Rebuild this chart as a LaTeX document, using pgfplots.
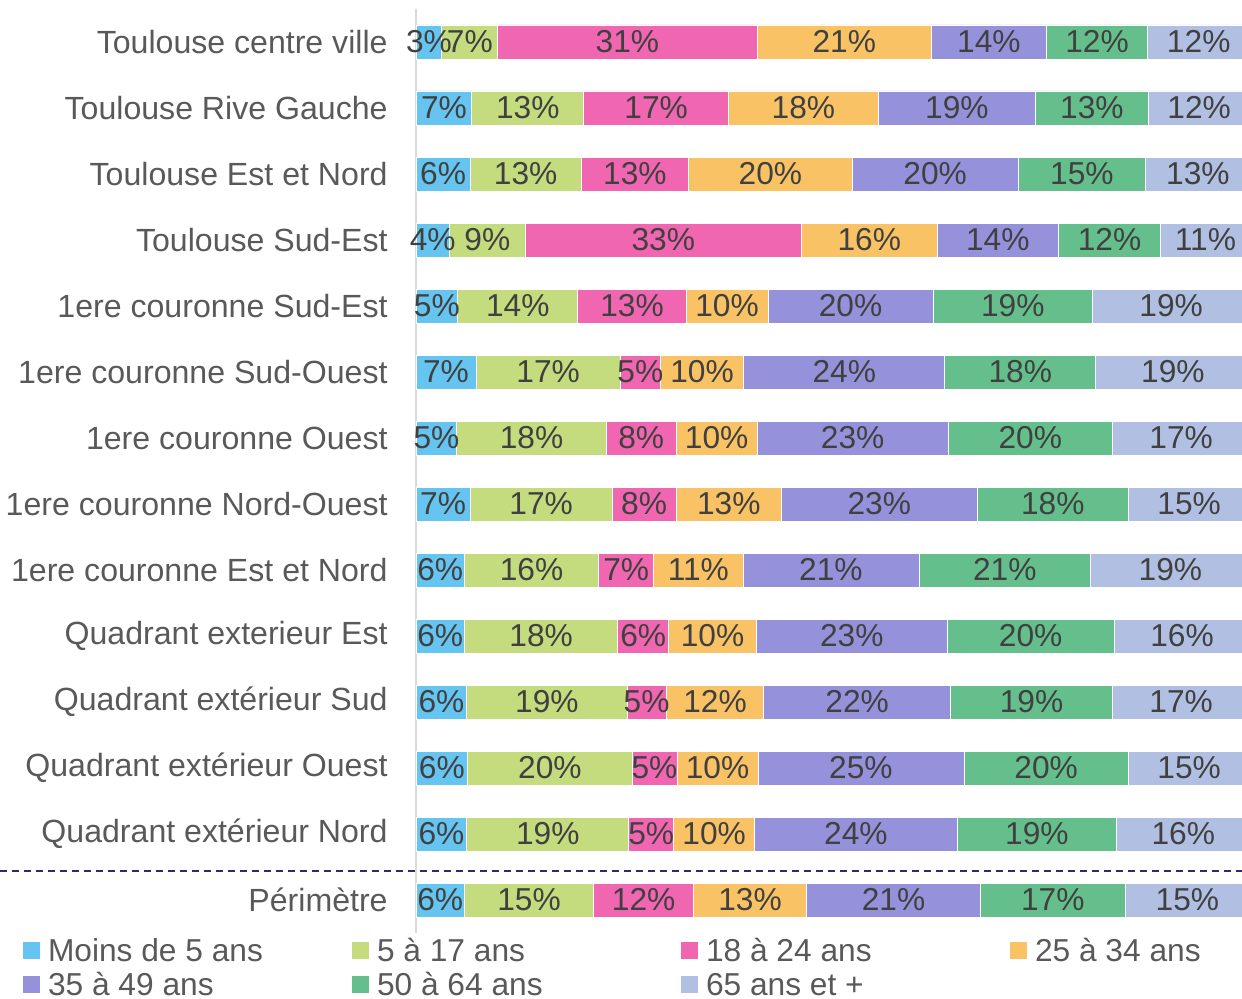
\documentclass[border=0pt]{standalone}
\usepackage{fontspec}
\setmainfont{Liberation Sans}
\usepackage{pgfplots}
\usepackage{pgfplotstable}
\pgfplotsset{compat=1.18}
\definecolor{c1}{HTML}{65C5F0}
\definecolor{c2}{HTML}{C4DB7E}
\definecolor{c3}{HTML}{F066B0}
\definecolor{c4}{HTML}{F9C365}
\definecolor{c5}{HTML}{9592DB}
\definecolor{c6}{HTML}{65BF8C}
\definecolor{c7}{HTML}{B1C0E2}
\definecolor{lab}{HTML}{595959}
\definecolor{val}{HTML}{404040}
\definecolor{dashc}{HTML}{2E2A6E}
\definecolor{axl}{HTML}{D9D9D9}

\pgfplotstableread{
y  a   b    c    d    e    f    g    la lb lc ld le lf lg
13 3.1 6.7  31.1 20.9 13.8 12.1 12.3 3  7  31 21 14 12 12
12 6.7 13.4 17.4 17.9 18.9 13.5 12.2 7  13 17 18 19 13 12
11 6.5 13.3 12.9 19.6 19.9 15.3 12.5 6  13 13 20 20 15 13
10 4.0 9.1  33.1 16.3 14.5 12.3 10.7 4  9  33 16 14 12 11
9  5.0 14.4 13.0 9.8  19.8 19.1 18.9 5  14 13 10 20 19 19
8  7.2 17.3 4.8  10.0 24.1 18.1 18.5 7  17 5  10 24 18 19
7  4.9 17.9 8.4  9.7  22.9 19.7 16.5 5  18 8  10 23 20 17
6  6.5 17.0 7.7  12.6 23.5 18.1 14.6 7  17 8  13 23 18 15
5  5.8 16.1 6.6  10.7 21.1 20.6 19.1 6  16 7  11 21 21 19
4  5.8 18.4 6.1  10.5 22.9 20.0 16.3 6  18 6  10 23 20 16
3  6.1 19.2 4.7  11.7 22.4 19.4 16.5 6  19 5  12 22 19 17
2  6.2 19.7 5.4  9.7  24.7 19.7 14.6 6  20 5  10 25 20 15
1  6.1 19.4 5.4  9.7  24.3 19.1 16.0 6  19 5  10 24 19 16
0  5.8 15.5 12.0 13.5 20.9 17.3 15.0 6  15 12 13 21 17 15
}\data

\newcommand{\fs}{\fontsize{15.85}{19}\selectfont}
\newcommand{\fst}{\fontsize{16.05}{19}\selectfont}
\newcommand{\lent}[1]{\makebox[152pt][l]{\rule[-4pt]{0pt}{17pt}#1}}

\begin{document}
\begin{tikzpicture}
\useasboundingbox (0,0) rectangle (621pt,499pt);
\begin{axis}[
  at={(208pt,32.5pt)}, anchor=south west,
  scale only axis, width=417pt, height=462pt,
  xmin=0, xmax=100, ymin=-0.5, ymax=13.5,
  xbar stacked, bar width=17pt,
  axis x line=none,
  axis y line*=left,
  y axis line style={draw=axl, line width=0.75pt, -},
  ytick={0,...,13},
  yticklabels={Périmètre, Quadrant extérieur Nord, Quadrant extérieur Ouest, Quadrant extérieur Sud, Quadrant exterieur Est, 1ere couronne Est et Nord, 1ere couronne Nord-Ouest, 1ere couronne Ouest, 1ere couronne Sud-Ouest, 1ere couronne Sud-Est, Toulouse Sud-Est, Toulouse Est et Nord, Toulouse Rive Gauche, Toulouse centre ville},
  major tick length=0pt,
  yticklabel style={font=\fst, text=lab, inner sep=0pt, xshift=-14pt},
  clip=false,
  legend columns=4,
  legend image code/.code={\path[#1, draw=none] (0pt,-4.25pt) rectangle (8.5pt,4.25pt);},
  legend style={at={(rel axis cs:-0.4712,-0.003)}, anchor=north west, draw=none, fill=none,
    font=\fs, text=lab, inner sep=0pt, outer sep=0pt, column sep=0pt, row sep=2.5pt,
    nodes={inner sep=0pt},
    /tikz/every odd column/.append style={column sep=4pt}},
]
\addplot[fill=c1, draw=white, line width=0.4pt] table[x=a, y=y] {\data};
\addlegendentry{\lent{Moins de 5 ans}}
\addplot[fill=c2, draw=white, line width=0.4pt] table[x=b, y=y] {\data};
\addlegendentry{\lent{5 à 17 ans}}
\addplot[fill=c3, draw=white, line width=0.4pt] table[x=c, y=y] {\data};
\addlegendentry{\lent{18 à 24 ans}}
\addplot[fill=c4, draw=white, line width=0.4pt] table[x=d, y=y] {\data};
\addlegendentry{\lent{25 à 34 ans}}
\addplot[fill=c5, draw=white, line width=0.4pt] table[x=e, y=y] {\data};
\addlegendentry{\lent{35 à 49 ans}}
\addplot[fill=c6, draw=white, line width=0.4pt] table[x=f, y=y] {\data};
\addlegendentry{\lent{50 à 64 ans}}
\addplot[fill=c7, draw=white, line width=0.4pt] table[x=g, y=y] {\data};
\addlegendentry{\lent{65 ans et +}}
\draw[dashc, line width=0.8pt, dash pattern=on 3.5pt off 2.5pt] (axis cs:-49.88,0.44) -- (axis cs:100,0.44);
\end{axis}
\begin{axis}[
  at={(208pt,32.5pt)}, anchor=south west,
  scale only axis, width=417pt, height=462pt,
  xmin=0, xmax=100, ymin=-0.5, ymax=13.5,
  hide axis, clip=false,
  nodes near coords={\pgfplotspointmeta\%},
  point meta=explicit symbolic,
  nodes near coords align=center,
  every node near coord/.append style={font=\fs, text=val, anchor=center, inner sep=0pt},
]
\addplot[draw=none, mark=none] table[x expr={\thisrow{a}/2}, y=y, meta=la] {\data};
\addplot[draw=none, mark=none] table[x expr={\thisrow{a}+\thisrow{b}/2}, y=y, meta=lb] {\data};
\addplot[draw=none, mark=none] table[x expr={\thisrow{a}+\thisrow{b}+\thisrow{c}/2}, y=y, meta=lc] {\data};
\addplot[draw=none, mark=none] table[x expr={\thisrow{a}+\thisrow{b}+\thisrow{c}+\thisrow{d}/2}, y=y, meta=ld] {\data};
\addplot[draw=none, mark=none] table[x expr={\thisrow{a}+\thisrow{b}+\thisrow{c}+\thisrow{d}+\thisrow{e}/2}, y=y, meta=le] {\data};
\addplot[draw=none, mark=none] table[x expr={\thisrow{a}+\thisrow{b}+\thisrow{c}+\thisrow{d}+\thisrow{e}+\thisrow{f}/2}, y=y, meta=lf] {\data};
\addplot[draw=none, mark=none] table[x expr={\thisrow{a}+\thisrow{b}+\thisrow{c}+\thisrow{d}+\thisrow{e}+\thisrow{f}+\thisrow{g}/2}, y=y, meta=lg] {\data};
\end{axis}
\end{tikzpicture}
\end{document}
